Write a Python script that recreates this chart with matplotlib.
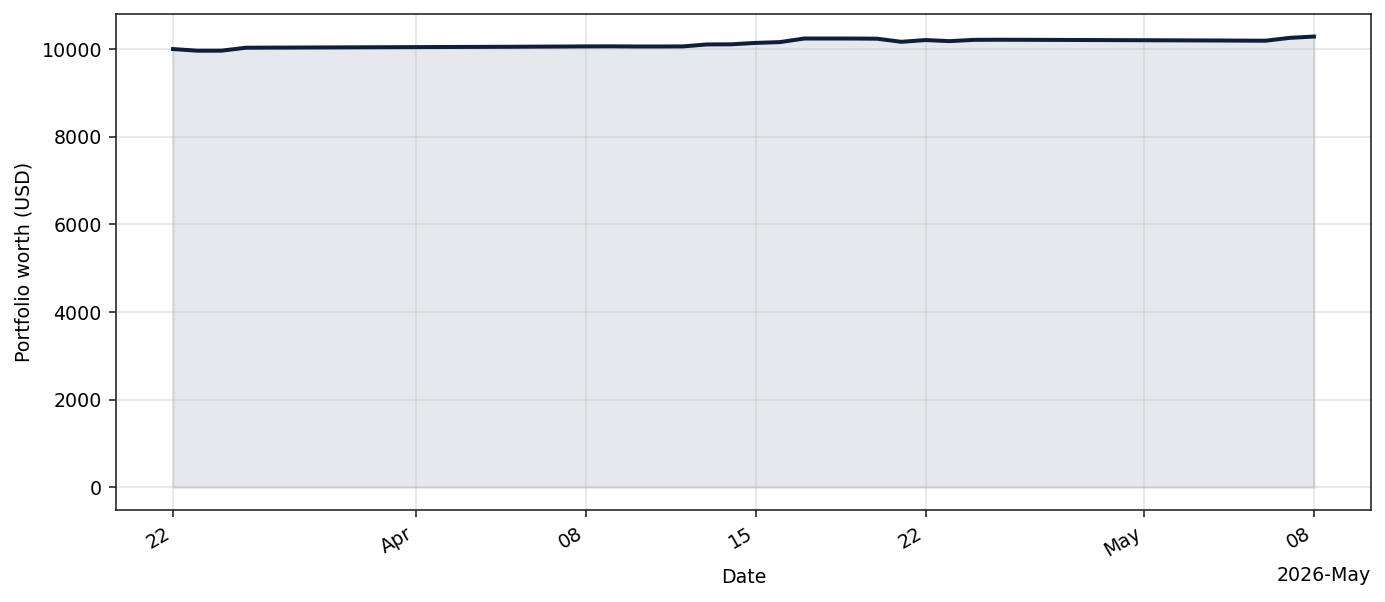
import numpy as np
import pandas as pd
import matplotlib
matplotlib.use("Agg")
import matplotlib.pyplot as plt
import matplotlib.dates as mdates

# daily portfolio value, 2026-03-22 .. 2026-05-08
dates = pd.date_range("2026-03-22", "2026-05-08", freq="D")
worth = [
    10000, 9962, 9963, 10030, 10032, 10034, 10036, 10038, 10040, 10042,
    10044, 10046, 10048, 10050, 10052, 10055, 10057, 10060, 10062, 10058,
    10058, 10060, 10105, 10108, 10140, 10158, 10240, 10240, 10240, 10236,
    10165, 10205, 10180, 10210, 10212, 10211, 10209, 10207, 10205, 10203,
    10201, 10199, 10197, 10195, 10192, 10190, 10255, 10285,
]

line_color = "#0d1f3c"

plt.rcParams["font.size"] = 9.5
plt.rcParams["axes.edgecolor"] = "#222222"
plt.rcParams["xtick.color"] = "#222222"
plt.rcParams["ytick.color"] = "#222222"
plt.rcParams["xtick.labelcolor"] = "black"
plt.rcParams["ytick.labelcolor"] = "black"

fig = plt.figure(figsize=(1385 / 144, 602 / 144), dpi=144)
ax = fig.add_axes([116 / 1385, 1 - 510 / 602, 1255 / 1385, 496 / 602])

ax.plot(dates, worth, color=line_color, linewidth=2.0)
ax.fill_between(dates, worth, 0, color=line_color, alpha=0.1)

locator = mdates.AutoDateLocator()
ax.xaxis.set_major_locator(locator)
ax.xaxis.set_major_formatter(mdates.ConciseDateFormatter(locator))
for lbl in ax.get_xticklabels():
    lbl.set_rotation(30)
    lbl.set_ha("right")

ax.set_xlabel("Date")
ax.set_ylabel("Portfolio worth (USD)")
ax.grid(True, color="#bbbbbb", alpha=0.4, linewidth=0.8)

fig.savefig("out.png", dpi=144)
